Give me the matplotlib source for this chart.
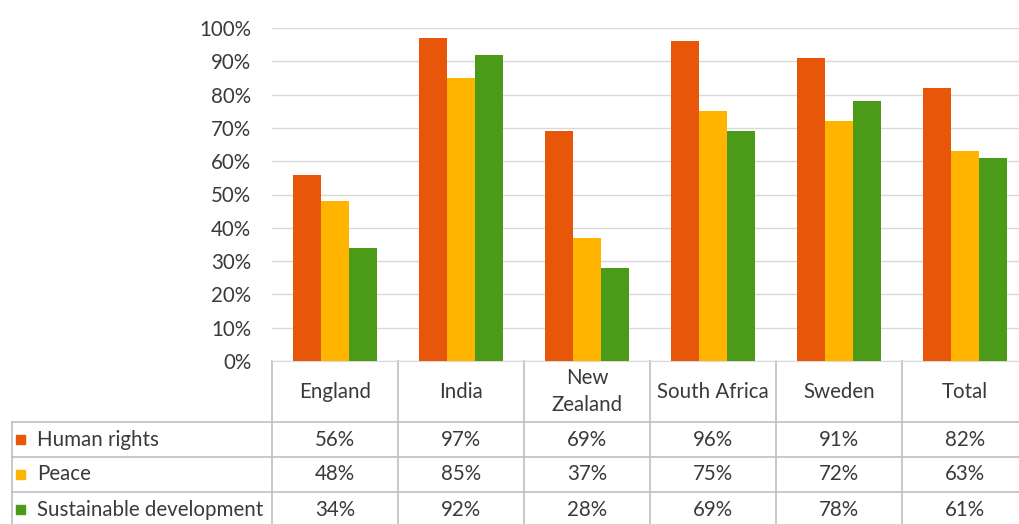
import matplotlib.pyplot as plt
from matplotlib.patches import Rectangle

plt.rcParams['font.family'] = ['Lato', 'DejaVu Sans']

countries = ["England", "India", "New\nZealand", "South Africa", "Sweden", "Total"]
series_names = ["Human rights", "Peace", "Sustainable development"]
human_rights = [56, 97, 69, 96, 91, 82]
peace = [48, 85, 37, 75, 72, 63]
sustainable = [34, 92, 28, 69, 78, 61]
colors = ["#E8560A", "#FFB400", "#4B9A18"]

W, H = 1019, 524
fig = plt.figure(figsize=(W / 100, H / 100), dpi=100)

# plot area in pixels: x 272..1028, y 28..361
x0, x1, y0, y1 = 272, 1028, 28, 361
ax = fig.add_axes([x0 / W, (H - y1) / H, (x1 - x0) / W, (y1 - y0) / H])

values = [human_rights, peace, sustainable]
bw = 0.222
for k, (vals, c) in enumerate(zip(values, colors)):
    xs = [i + 0.5 + (k - 1) * bw for i in range(len(countries))]
    ax.bar(xs, [v / 100 for v in vals], width=bw, color=c, zorder=3)

fs = 14.8
tc = "#3A3A3A"
ax.set_xlim(0, len(countries))
ax.set_ylim(0, 1.0)
ax.set_yticks([i / 10 for i in range(11)])
ax.set_yticklabels([f"{i * 10}%" for i in range(11)], fontsize=fs, color=tc)
ax.tick_params(axis="y", length=0, pad=15)
ax.set_xticks([])
ax.grid(axis="y", color="#D9D9D9", linewidth=1, zorder=0)
for s in ["top", "right", "left"]:
    ax.spines[s].set_visible(False)
ax.spines["bottom"].set_color("#D9D9D9")

# data table below the plot, in axes/data units
px = 1 / (y1 - y0)
header_bot = -61 * px
row_bots = [-96 * px, -131 * px, -166 * px]
row_tops = [header_bot] + row_bots[:-1]
left_x = (12 - x0) / ((x1 - x0) / len(countries))
lc = "#BFBFBF"
tr = ax.transData
kw = dict(color=lc, linewidth=1.2, clip_on=False, transform=tr)

for i in range(len(countries) + 1):
    ax.plot([i, i], [0, row_bots[-1]], **kw)
ax.plot([left_x, left_x], [header_bot, row_bots[-1]], **kw)
for yb in [header_bot] + row_bots[:-1]:
    ax.plot([left_x, len(countries)], [yb, yb], **kw)

for i, name in enumerate(countries):
    ax.text(i + 0.5, header_bot / 2, name, ha="center", va="center",
            fontsize=fs, color=tc, clip_on=False, linespacing=1.45)

for r, (name, vals, c) in enumerate(zip(series_names, values, colors)):
    yc = (row_tops[r] + row_bots[r]) / 2
    sq_w = 9 / ((x1 - x0) / len(countries))
    ax.add_patch(Rectangle((left_x + 4 / 126, yc - 4.5 * px), sq_w, 9 * px,
                           color=c, clip_on=False))
    ax.text(left_x + 25 / 126, yc, name, ha="left", va="center",
            fontsize=fs, color=tc, clip_on=False)
    for i, v in enumerate(vals):
        ax.text(i + 0.5, yc, f"{v}%", ha="center", va="center",
                fontsize=fs, color=tc, clip_on=False)

fig.savefig("out.png", dpi=100)
